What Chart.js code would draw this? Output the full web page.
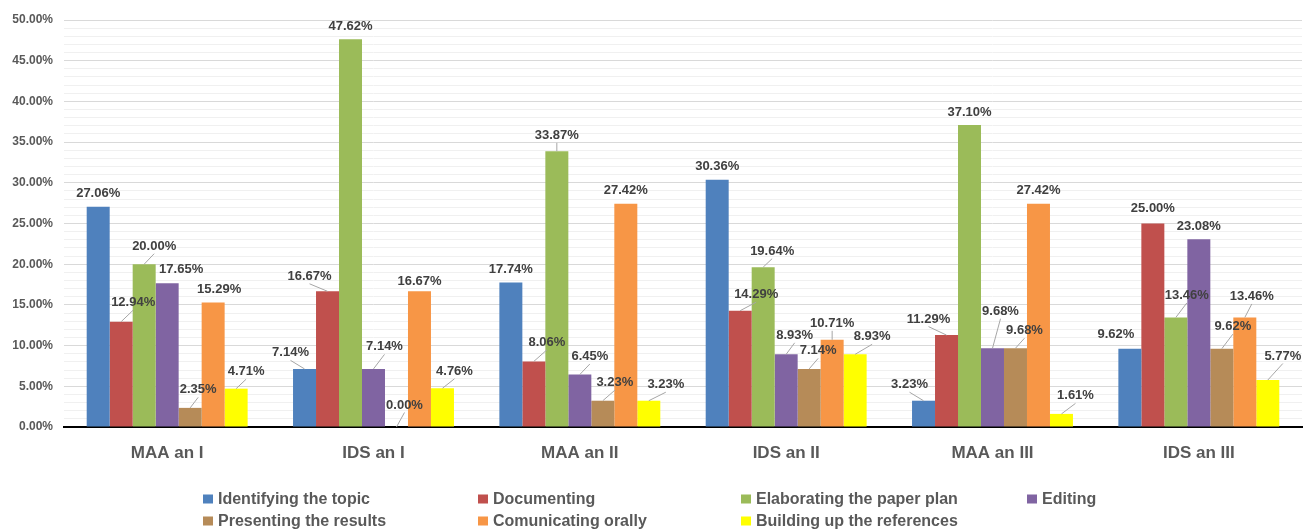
<!DOCTYPE html>
<html>
<head>
<meta charset="utf-8">
<script src="https://cdn.jsdelivr.net/npm/chart.js@4.4.1/dist/chart.umd.min.js"></script>
<style>
  html, body { margin: 0; padding: 0; background: #ffffff; }
  canvas { display: block; }
</style>
</head>
<body>
<canvas id="activityChart" width="1303" height="531"></canvas>
<script>
// share of answers per activity, in percent
const categories = ["MAA an I", "IDS an I", "MAA an II", "IDS an II", "MAA an III", "IDS an III"];
const identifyingTopic = [27.06, 7.14, 17.74, 30.36, 3.23, 9.62];
const documenting = [12.94, 16.67, 8.06, 14.29, 11.29, 25.00];
const elaboratingPlan = [20.00, 47.62, 33.87, 19.64, 37.10, 13.46];
const editing = [17.65, 7.14, 6.45, 8.93, 9.68, 23.08];
const presentingResults = [2.35, 0.00, 3.23, 7.14, 9.68, 9.62];
const comunicatingOrally = [15.29, 16.67, 27.42, 10.71, 27.42, 13.46];
const buildingReferences = [4.71, 4.76, 3.23, 8.93, 1.61, 5.77];
const yMax = 50;
const yMajorStep = 5;

const seriesNames = [
    "Identifying the topic", "Documenting", "Elaborating the paper plan", "Editing",
    "Presenting the results", "Comunicating orally", "Building up the references"
];
const seriesValues = [
    identifyingTopic, documenting, elaboratingPlan, editing,
    presentingResults, comunicatingOrally, buildingReferences
];
const seriesColors = ['#4f81bd', '#c0504d', '#9bbb59', '#8064a2', '#b68b58', '#f79646', '#ffff00'];

// where each value label sits relative to the top of its bar [dx, dy]
const labelShift = [
    [[0, -13], [-14, -16], [0, -13], [0, -13], [-14, -16], [-14, -14]],
    [[12, -19], [-18, -15], [13, -19], [16, -16], [-18, -16], [0, -15]],
    [[10, -18], [0, -13], [0, -16], [9, -16], [0, -12.5], [11, -22]],
    [[14, -14], [11, -22], [10, -18], [8.5, -19], [8, -37], [0, -13]],
    [[8, -18], [8, -22], [12, -18], [9, -18], [9, -17.5], [11, -22]],
    [[6, -13], [0, -10], [0, -13], [0, -16.5], [0, -13], [7, -21]],
    [[10, -17], [12, -17], [17, -16], [17, -17.5], [14, -18], [15, -24]]
];

const valueLabels = {
    id: 'valueLabels',
    afterDatasetsDraw(chart) {
        const ctx = chart.ctx;
        ctx.save();
        ctx.font = 'bold 13px "Liberation Sans", Arial, sans-serif';
        ctx.textAlign = 'center';
        ctx.textBaseline = 'middle';
        chart.data.datasets.forEach((ds, d) => {
            const meta = chart.getDatasetMeta(d);
            meta.data.forEach((bar, i) => {
                const txt = ds.data[i].toFixed(2) + '%';
                const [dx, dy] = labelShift[d][i];
                const cx = bar.x + dx;
                const cy = bar.y + dy;
                const gap = bar.y - (cy + 6.5);
                if (gap > 9 || Math.abs(dx) > 15) {
                    ctx.strokeStyle = '#a6a6a6';
                    ctx.lineWidth = 1;
                    ctx.beginPath();
                    ctx.moveTo(bar.x, bar.y);
                    ctx.lineTo(cx, cy + 7.5);
                    ctx.stroke();
                }
                ctx.fillStyle = '#404040';
                ctx.fillText(txt, cx, cy);
            });
        });
        ctx.restore();
    }
};

// two-row legend under the category labels
const gridLegend = {
    id: 'gridLegend',
    afterDraw(chart) {
        const ctx = chart.ctx;
        const cols = [203, 478, 741, 1027];
        const rows = [499.5, 521.5];
        ctx.save();
        ctx.font = 'bold 16px "Liberation Sans", Arial, sans-serif';
        ctx.textBaseline = 'middle';
        ctx.textAlign = 'left';
        chart.data.datasets.forEach((ds, d) => {
            const x = cols[d % 4];
            const y = rows[Math.floor(d / 4)];
            ctx.fillStyle = ds.backgroundColor;
            ctx.fillRect(x, y - 5, 10, 9);
            ctx.fillStyle = '#595959';
            ctx.fillText(ds.label, x + 15, y);
        });
        ctx.restore();
    }
};

let chartCanvas = document.getElementById("activityChart").getContext("2d");
let activityChart = new Chart(chartCanvas, {
    type: "bar",
    data: {
        labels: categories,
        datasets: seriesNames.map((name, d) => ({
            label: name,
            data: seriesValues[d],
            backgroundColor: seriesColors[d],
            borderWidth: 0,
            barPercentage: 1,
            categoryPercentage: 0.78
        }))
    },
    options: {
        responsive: false,
        animation: false,
        layout: { padding: { top: 20, right: 1, left: 0, bottom: 0 } },
        plugins: {
            legend: { display: false },
            tooltip: { enabled: false }
        },
        scales: {
            x: {
                grid: { display: false, drawTicks: false },
                border: { display: true, color: '#000000', width: 2 },
                ticks: {
                    color: '#595959',
                    padding: 16,
                    font: { family: '"Liberation Sans", Arial, sans-serif', size: 17, weight: 'bold' }
                },
                afterFit: (scale) => { scale.height = 104; }
            },
            y: {
                min: 0,
                max: yMax,
                grid: {
                    drawTicks: false,
                    color: (c) => (c.tick && c.tick.value % yMajorStep === 0) ? '#d9d9d9' : '#f0f0f0',
                    lineWidth: 1
                },
                border: { display: false },
                ticks: {
                    stepSize: 1,
                    autoSkip: false,
                    padding: 11,
                    color: '#595959',
                    font: { family: '"Liberation Sans", Arial, sans-serif', size: 12, weight: 'bold' },
                    callback: (v) => v % yMajorStep === 0 ? v.toFixed(2) + '%' : ''
                },
                afterFit: (scale) => { scale.width = 64; }
            }
        }
    },
    plugins: [valueLabels, gridLegend]
});
</script>
</body>
</html>
